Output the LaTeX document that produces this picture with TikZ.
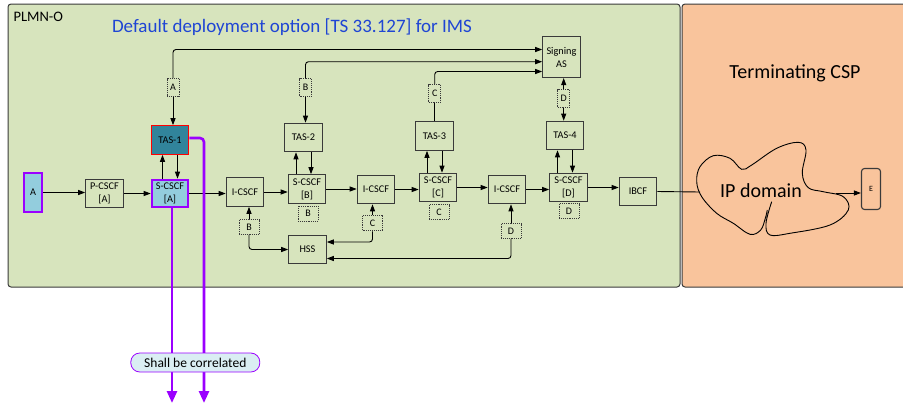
\documentclass[tikz,border=0pt]{standalone}
\usepackage{fontspec}
\setmainfont{Carlito}
\usetikzlibrary{arrows.meta}
\definecolor{oliva}{HTML}{D7E4BD}
\definecolor{durazno}{HTML}{F9C49C}
\definecolor{borde}{HTML}{3A3A3A}
\definecolor{celeste}{HTML}{93CDDD}
\definecolor{petroleo}{HTML}{31849B}
\definecolor{violeta}{HTML}{9B00FF}
\definecolor{azultit}{HTML}{1F45D4}
\definecolor{pildora}{HTML}{DAEEF3}

\begin{document}
\begin{tikzpicture}[x=1pt,y=-1pt,
   caja/.style={draw=borde,line width=1.1pt,fill=oliva,align=center,inner sep=0pt,
     minimum width=37.5pt,minimum height=28.5pt,font=\fontsize{10.3}{13}\selectfont},
   marca/.style={draw=borde,densely dotted,line width=0.9pt,fill=oliva,inner sep=0pt,
     minimum width=20pt,minimum height=15pt,font=\fontsize{10}{11}\selectfont},
   marcav/.style={marca,minimum width=12pt,minimum height=18pt},
   enlace/.style={draw=black,line width=0.9pt},
   flecha/.style={enlace,-{Triangle[length=7pt,width=5pt]}},
   morado/.style={draw=violeta,line width=2.6pt,-{Triangle[length=12pt,width=10pt]}}]

  \useasboundingbox (0,0) rectangle (903,405);

  % --- marcos ---
  \draw[draw=borde,line width=1pt,fill=oliva,rounded corners=3pt] (8,4) rectangle (680,287);
  \draw[draw=borde,line width=1pt,fill=durazno,rounded corners=3pt] (682,4) rectangle (910,287);
  \node[anchor=west,font=\fontsize{14.5}{16}\selectfont] (plmn) at (10,17) {PLMN-O};
  \node[text=azultit,font=\fontsize{19}{22}\selectfont] (titulo) at (292,27)
    {Default deployment option [TS 33.127] for IMS};
  \node[font=\fontsize{20}{22}\selectfont] (csp) at (795,73) {Terminating CSP};

  % --- nodos ---
  \node[caja,draw=violeta,line width=2.6pt,fill=celeste,minimum width=18pt,minimum height=39pt] (ue) at (33,192.5) {A};
  \node[caja] (pcscf) at (104.5,193.5) {P-CSCF\\{[A]}};
  \node[caja,draw=violeta,line width=2.6pt,fill=celeste,minimum width=36pt,minimum height=27pt] (scscfA) at (170,193.5) {S-CSCF\\{[A]}};
  \node[caja,draw=red,fill=petroleo] (tas1) at (170,140) {TAS-1};
  \node[caja] (icscfA) at (245,192) {I-CSCF};
  \node[caja] (scscfB) at (307,189) {S-CSCF\\{[B]}};
  \node[caja] (tas2) at (303.5,137.5) {TAS-2};
  \node[caja] (icscfB) at (376,189.5) {I-CSCF};
  \node[caja] (hss) at (307.5,249.5) {HSS};
  \node[caja] (scscfC) at (438,187.5) {S-CSCF\\{[C]}};
  \node[caja] (tas3) at (434.5,136) {TAS-3};
  \node[caja] (icscfC) at (507,189.5) {I-CSCF};
  \node[caja] (scscfD) at (568.5,187.5) {S-CSCF\\{[D]}};
  \node[caja] (tas4) at (565,135.5) {TAS-4};
  \node[caja,minimum height=41pt] (signing) at (561.5,57) {Signing\\AS};
  \node[caja] (ibcf) at (638,191.5) {IBCF};
  \node[caja,fill=durazno,rounded corners=3pt,minimum width=19pt,minimum height=41pt,
    font=\fontsize{8}{9}\selectfont] (e) at (871,189) {E};

  % --- marcas punteadas ---
  \node[marcav] (tagA) at (173,87.5) {A};
  \node[marcav] (tagB) at (305.5,87.5) {B};
  \node[marcav] (tagC) at (434.7,93.5) {C};
  \node[marcav] (tagD) at (563.7,98.5) {D};
  \node[marca] (subB) at (308,213.5) {B};
  \node[marca] (subC) at (439,212) {C};
  \node[marca] (subD) at (569,211) {D};
  \node[marca] (hssB) at (249,227) {B};
  \node[marca] (hssC) at (372.5,223.3) {C};
  \node[marca] (hssD) at (511,231) {D};

  % --- flujo principal ---
  \foreach \a/\b in {ue/pcscf,pcscf/scscfA,scscfA/icscfA,icscfA/scscfB,scscfB/icscfB,
      icscfB/scscfC,scscfC/icscfC,icscfC/scscfD,scscfD/ibcf}
    \draw[flecha] (\a.east) -- (\a.east -| \b.west);

  % --- TAS <-> S-CSCF ---
  \foreach \t/\s in {tas1/scscfA,tas2/scscfB,tas3/scscfC,tas4/scscfD}{
    \draw[flecha] ([xshift=-7.5pt]\t.south |- \s.north) -- ([xshift=-7.5pt]\t.south);
    \draw[flecha] ([xshift=7.5pt]\t.south) -- ([xshift=7.5pt]\t.south |- \s.north);
  }

  % --- hacia Signing AS ---
  \draw[flecha] (tagA.south) -- (tagA |- tas1.north);
  \draw[flecha,rounded corners=3pt] (tagA.north) |- ([yshift=7.5pt]signing.west);
  \draw[flecha] (tagB.south) -- (tagB |- tas2.north);
  \draw[flecha,rounded corners=3pt] (tagB.north) |- ([yshift=-4.7pt]signing.west);
  \draw[enlace] (tagC.south) -- (tagC |- tas3.north);
  \draw[flecha,rounded corners=3pt] (tagC.north) |- ([yshift=-14.5pt]signing.west);
  \draw[flecha] (tagD.north) -- (tagD |- signing.south);
  \draw[flecha] (tagD.south) -- (tagD |- tas4.north);

  % --- hacia HSS ---
  \draw[flecha] (hssB.north) -- (hssB |- icscfA.south);
  \draw[flecha,rounded corners=3pt] (hssB.south) |- (hss.west);
  \draw[flecha] (hssC.north) -- (hssC |- icscfB.south);
  \draw[flecha,rounded corners=3pt] (hssC.south) |- ([yshift=7.5pt]hss.east);
  \draw[flecha] (hssD.north) -- (hssD |- icscfC.south);
  \draw[flecha,rounded corners=3pt] (hssD.south) |- ([yshift=-9pt]hss.east);

  % --- dominio IP ---
  \coordinate (ipin) at (700,192);
  \coordinate (ipout) at (836,193);
  \draw[enlace] (ibcf.east) -- (ipin);
  \draw[line width=0.9pt] plot[smooth,tension=0.6] coordinates {
    (771.7,201.7) (766,223.3) (770,235) (790,233.3) (830,225) (848.3,210)
    (843.3,196.7) (823.3,191.7) (808.3,187.7) (802.3,173.3) (806,150) (798.3,142.3)
    (776.7,148.3) (751.7,165) (741.7,169.3) (730,158.3) (713.3,155.7) (700,166.7)
    (696.7,181.7) (701.7,196.7) (716.7,213.3) (733.3,223.3) (750,234.3) (760.7,230)
    (765.3,218.3) (767.3,210)};
  \node[font=\fontsize{20}{22}\selectfont] (ip) at (761,191) {IP domain};
  \draw[flecha] (ipout) -- (ipout -| e.west);

  % --- correlacion ---
  \coordinate (fin1) at (172,403);
  \coordinate (fin2) at (204,403);
  \draw[morado] (scscfA.south -| fin1) -- (fin1);
  \draw[morado,rounded corners=4pt] ([yshift=2pt]tas1.east) -| (fin2);
  \node[draw=violeta,line width=0.8pt,fill=pildora,rounded corners=9pt,minimum width=129pt,
    minimum height=19pt,inner sep=0pt,font=\fontsize{13.5}{15}\selectfont] (corr) at (195.3,362.5)
    {Shall be correlated};
\end{tikzpicture}
\end{document}
